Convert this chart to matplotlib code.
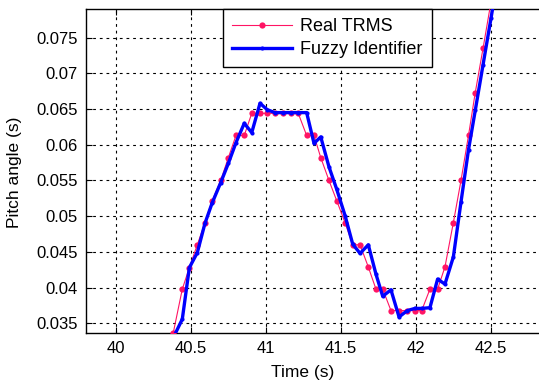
import matplotlib
matplotlib.use("Agg")
import matplotlib.pyplot as plt

plt.rcParams['font.family'] = ['Liberation Sans', 'DejaVu Sans']

# Real TRMS samples
t_real = [40.382, 40.442, 40.489, 40.542, 40.593, 40.640, 40.698, 40.749, 40.800, 40.855,
          40.905, 40.960, 41.009, 41.060, 41.111, 41.165, 41.215, 41.271, 41.320, 41.365,
          41.420, 41.471, 41.527, 41.578, 41.627, 41.682, 41.733, 41.778, 41.833, 41.887,
          41.942, 41.993, 42.038, 42.093, 42.144, 42.193, 42.249, 42.300, 42.350, 42.395,
          42.447, 42.500]
y_real = [0.0337, 0.0398, 0.0428, 0.0460, 0.0491, 0.0521, 0.0550, 0.0582, 0.0613, 0.0613,
          0.0644, 0.0644, 0.0644, 0.0644, 0.0644, 0.0644, 0.0644, 0.0613, 0.0613, 0.0582,
          0.0550, 0.0522, 0.0491, 0.0460, 0.0460, 0.0429, 0.0398, 0.0398, 0.0368, 0.0368,
          0.0368, 0.0368, 0.0368, 0.0398, 0.0398, 0.0429, 0.0491, 0.0550, 0.0613, 0.0673,
          0.0735, 0.0800]

# Fuzzy identifier output
t_fuzzy = [40.382, 40.442, 40.489, 40.542, 40.593, 40.640, 40.698, 40.749, 40.800, 40.855,
           40.905, 40.960, 41.009, 41.060, 41.111, 41.165, 41.215, 41.271, 41.320, 41.365,
           41.420, 41.471, 41.527, 41.578, 41.627, 41.682, 41.733, 41.778, 41.833, 41.887,
           41.942, 41.993, 42.038, 42.093, 42.144, 42.193, 42.249, 42.300, 42.350, 42.395,
           42.447, 42.500, 42.550]
y_fuzzy = [0.0330, 0.0356, 0.0428, 0.0449, 0.0490, 0.0518, 0.0547, 0.0574, 0.0603, 0.0630,
           0.0617, 0.0658, 0.0649, 0.0645, 0.0645, 0.0645, 0.0645, 0.0645, 0.0602, 0.0611,
           0.0569, 0.0538, 0.0501, 0.0461, 0.0448, 0.0460, 0.0419, 0.0388, 0.0397, 0.0359,
           0.0368, 0.0371, 0.0371, 0.0372, 0.0412, 0.0405, 0.0443, 0.0520, 0.0593, 0.0648,
           0.0712, 0.0777, 0.0840]

x_ticks = [40, 40.5, 41, 41.5, 42, 42.5]
x_ticklabels = ['40', '40.5', '41', '41.5', '42', '42.5']
y_ticks = [0.035, 0.04, 0.045, 0.05, 0.055, 0.06, 0.065, 0.07, 0.075]
y_ticklabels = ['0.035', '0.04', '0.045', '0.05', '0.055', '0.06', '0.065', '0.07', '0.075']

W, H = 539, 385
fig = plt.figure(figsize=(W / 100, H / 100), dpi=100)
left, right, bottom, top = 86, 569, 332.7, 9
ax = fig.add_axes([left / W, 1 - bottom / H, (right - left) / W, (bottom - top) / H])

ax.plot(t_real, y_real, color='#ff1464', lw=0.8, marker='o', markersize=4.5,
        markeredgewidth=0, label='Real TRMS', zorder=3)
ax.plot(t_fuzzy, y_fuzzy, color='#0000ff', lw=2.4, marker='o', markersize=3,
        markeredgewidth=0, label='Fuzzy Identifier', zorder=4)

ax.set_xlim(39.8, 43.02)
ax.set_ylim(0.0337, 0.0790)
ax.set_xticks(x_ticks)
ax.set_xticklabels(x_ticklabels)
ax.set_yticks(y_ticks)
ax.set_yticklabels(y_ticklabels)
ax.tick_params(direction='in', length=4, width=0.8, labelsize=12, top=True, right=True,
               colors='black', pad=6)
ax.grid(True, color='black', linestyle=(0, (2.5, 3.5)), linewidth=0.8)
for s in ax.spines.values():
    s.set_linewidth(1.0)
    s.set_color('black')

fig.text(303 / W, 1 - 372 / H, 'Time (s)', fontsize=12.5, ha='center', va='center')
fig.text(15 / W, 1 - 172 / H, 'Pitch angle (s)', fontsize=12.5, ha='center', va='center',
         rotation=90)

leg = ax.legend(loc='upper center', bbox_to_anchor=(327.5 / W, 1 - 9 / H),
                bbox_transform=fig.transFigure, borderaxespad=0,
                fontsize=13, frameon=True, fancybox=False, edgecolor='black',
                framealpha=1, handlelength=3.3, handletextpad=0.45,
                borderpad=0.5, labelspacing=0.35)
leg.get_frame().set_linewidth(1.0)

fig.savefig('out.png', dpi=100)
